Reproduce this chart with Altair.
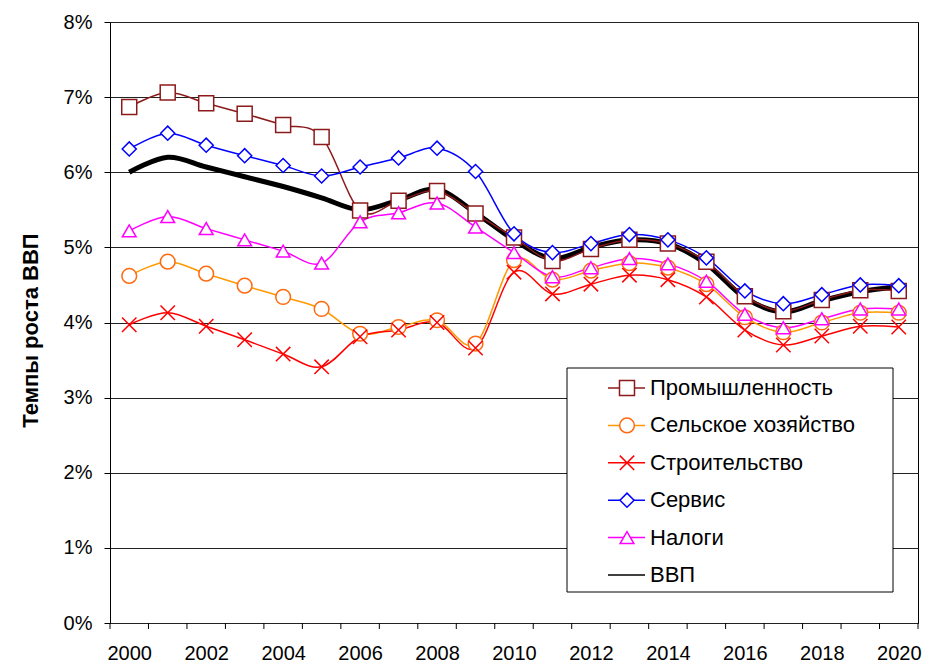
import altair as alt
import pandas as pd

years = list(range(2000, 2021))
series_names = ["Промышленность", "Сельское хозяйство", "Строительство", "Сервис", "Налоги", "ВВП"]

industry = [6.87, 7.06, 6.92, 6.78, 6.63, 6.47, 5.49, 5.62, 5.75, 5.45, 5.13,
            4.82, 4.98, 5.10, 5.05, 4.81, 4.35, 4.15, 4.30, 4.43, 4.42]
agriculture = [4.62, 4.81, 4.65, 4.49, 4.34, 4.18, 3.85, 3.94, 4.03, 3.72, 4.83,
               4.57, 4.69, 4.79, 4.73, 4.51, 4.07, 3.87, 4.00, 4.13, 4.13]
construction = [3.97, 4.13, 3.95, 3.77, 3.58, 3.41, 3.81, 3.90, 4.00, 3.66, 4.67,
                4.38, 4.51, 4.63, 4.57, 4.34, 3.90, 3.70, 3.82, 3.95, 3.94]
services = [6.31, 6.52, 6.36, 6.22, 6.09, 5.95, 6.07, 6.19, 6.32, 6.01, 5.18,
            4.93, 5.05, 5.17, 5.10, 4.86, 4.42, 4.25, 4.37, 4.50, 4.49]
taxes = [5.22, 5.41, 5.25, 5.10, 4.95, 4.79, 5.34, 5.46, 5.59, 5.27, 4.93,
         4.61, 4.73, 4.85, 4.78, 4.55, 4.11, 3.93, 4.05, 4.18, 4.18]
gdp = [6.00, 6.20, 6.07, 5.94, 5.81, 5.66, 5.50, 5.63, 5.77, 5.46, 5.10,
       4.85, 5.00, 5.10, 5.05, 4.78, 4.33, 4.14, 4.29, 4.41, 4.48]

y_ticks = list(range(0, 9))
x_labels = list(range(2000, 2021, 2))
x_tick_marks = [y - 0.5 for y in range(2000, 2022)]

line_colors = ["#8C1A1A", "#FF9900", "#FF0000", "#0000FF", "#FF00FF", "#000000"]
marker_colors = ["#8C1A1A", "#FF6A10", "#FF0000", "#0000FF", "#FF00FF"]
marker_shapes = ["square", "circle", "M-1,-1L1,1M-1,1L1,-1", "diamond", "triangle-up"]
marker_sizes = [225, 190, 170, 256, 220]

FONT = "Liberation Sans"

rows = []
for name, vals in zip(series_names[:5], [industry, agriculture, construction, services, taxes]):
    for yr, v in zip(years, vals):
        rows.append({"series": name, "year": yr, "value": v})
df = pd.DataFrame(rows)
df_gdp = pd.DataFrame({"year": years, "value": gdp, "series": "ВВП"})
df_ticks = pd.DataFrame({"year": x_tick_marks})

color_scale = alt.Scale(domain=series_names, range=line_colors)
stroke_scale = alt.Scale(domain=series_names[:5], range=marker_colors)
shape_scale = alt.Scale(domain=series_names[:5], range=marker_shapes)
size_scale = alt.Scale(domain=series_names[:5], range=marker_sizes)

x_enc = alt.X("year:Q",
              scale=alt.Scale(domain=[1999.5, 2020.5], nice=False, zero=False),
              axis=alt.Axis(values=x_labels, format="d", ticks=False, tickSize=0,
                            labelPadding=20, grid=False, domain=False, title=None,
                            labelFontSize=20, labelFont=FONT, labelColor="black"))
y_enc = alt.Y("value:Q",
              scale=alt.Scale(domain=[0, 8], nice=False, zero=True),
              axis=alt.Axis(values=y_ticks, labelExpr="datum.value + '%'",
                            grid=True, gridColor="#222222", gridWidth=1,
                            ticks=True, tickSize=6, tickColor="black",
                            labelPadding=12, domain=True, domainColor="black",
                            labelFontSize=20, labelFont=FONT, labelColor="black",
                            title="Темпы роста ВВП", titleFontSize=22, titleFont=FONT,
                            titleFontWeight="bold", titleColor="black",
                            titleX=-80, titleY=308, titleAngle=-90,
                            titleAlign="center", titleBaseline="middle"))

gdp_line = alt.Chart(df_gdp).mark_line(interpolate="cardinal", strokeWidth=5, color="black").encode(
    x=x_enc, y=y_enc)

lines = alt.Chart(df).mark_line(interpolate="cardinal", strokeWidth=1.5).encode(
    x=x_enc, y=y_enc,
    color=alt.Color("series:N", scale=color_scale, legend=None),
    detail="series:N")

points = alt.Chart(df).mark_point(filled=True, fill="white", strokeWidth=1.5, opacity=1).encode(
    x=x_enc, y=y_enc,
    stroke=alt.Stroke("series:N", scale=stroke_scale, legend=None),
    shape=alt.Shape("series:N", scale=shape_scale, legend=None),
    size=alt.Size("series:N", scale=size_scale, legend=None))

ticks = alt.Chart(df_ticks).mark_rule(color="black", strokeWidth=1).encode(
    x=x_enc,
    y=alt.value(601), y2=alt.value(607))

main = alt.layer(gdp_line, lines, points, ticks)

# legend
df_leg = pd.DataFrame({"series": series_names, "idx": list(range(len(series_names)))})
leg_y = alt.Y("idx:O", scale=alt.Scale(type="point", range=[366, 553], padding=0), axis=None)

leg_box = alt.Chart(pd.DataFrame({"a": [0]})).mark_rect(fill="white", stroke="black", strokeWidth=1).encode(
    x=alt.value(457), x2=alt.value(783), y=alt.value(346), y2=alt.value(570))

leg_lines = alt.Chart(df_leg).mark_rule().encode(
    x=alt.value(498), x2=alt.value(535), y=leg_y,
    color=alt.Color("series:N", scale=color_scale, legend=None),
    strokeWidth=alt.StrokeWidth("series:N",
                                scale=alt.Scale(domain=series_names, range=[1.5, 1.5, 1.5, 1.5, 1.5, 5]),
                                legend=None))

leg_pts = alt.Chart(df_leg).transform_filter("datum.idx < 5").mark_point(
    filled=True, fill="white", strokeWidth=1.5, opacity=1).encode(
    x=alt.value(517), y=leg_y,
    stroke=alt.Stroke("series:N", scale=stroke_scale, legend=None),
    shape=alt.Shape("series:N", scale=shape_scale, legend=None),
    size=alt.Size("series:N", scale=size_scale, legend=None))

leg_text = alt.Chart(df_leg).mark_text(align="left", baseline="middle", fontSize=22,
                                       font=FONT, color="black").encode(
    x=alt.value(540), y=leg_y, text="series:N")

legend = alt.layer(leg_box, leg_lines, leg_pts, leg_text)

chart = alt.layer(main, legend).resolve_scale(y="independent").properties(
    width=808, height=601,
    autosize=alt.AutoSizeParams(type="none"),
    padding={"left": 102, "top": 14, "right": 5, "bottom": 42},
    background="white"
).configure_view(stroke="black", strokeWidth=1)

chart.save("out.html", embed_options={"renderer": "svg", "actions": False})
